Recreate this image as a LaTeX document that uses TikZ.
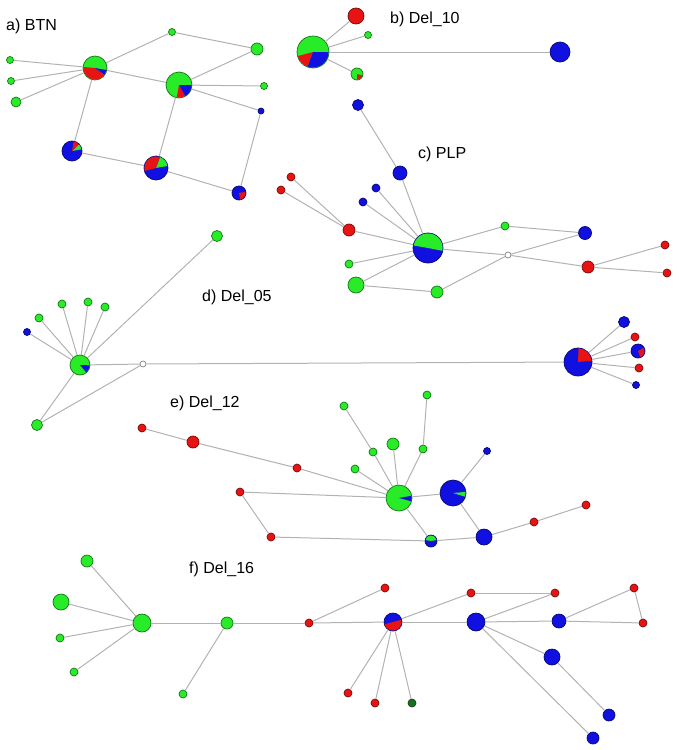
\documentclass[tikz,border=0pt]{standalone}
\usepackage{fontspec}
\setmainfont{Liberation Sans}
\usetikzlibrary{positioning}

\definecolor{hgreen}{RGB}{40,236,40}
\definecolor{hred}{RGB}{232,20,20}
\definecolor{hblue}{RGB}{16,16,224}
\definecolor{hdark}{RGB}{24,110,34}
\definecolor{hgray}{RGB}{178,178,178}

\tikzset{
  hap/.style={circle, draw, inner sep=0pt, line width=0.7pt},
  gn/.style={hap, fill=hgreen, draw=hgreen!50!black},
  rd/.style={hap, fill=hred, draw=hred!50!black},
  bl/.style={hap, fill=hblue, draw=hblue!50!black},
  dg/.style={hap, fill=hdark, draw=hdark!60!black},
  mv/.style={hap, fill=white, draw=gray, minimum size=6pt},
  link/.style={draw=hgray, line width=1pt},
  lbl/.style={anchor=base west, inner sep=0pt, font=\fontsize{16}{19}\selectfont}
}

% slice of a pie node: node, radius, start, end, colour
\newcommand{\pieslice}[5]{%
  \fill[#5] (#1.center) -- ++(#3:#2) arc[start angle=#3, end angle=#4, radius=#2] -- cycle;}

\begin{document}
\begin{tikzpicture}[x=1pt, y=-1pt]
\useasboundingbox (0,0) rectangle (679,750);

% a) BTN
\node[lbl] (ta) at (6,30) {a) BTN};
\node[gn, minimum size=24pt] (a1) at (95,68) {};
\node[gn, minimum size=26pt] (a2) at (179,85) {};
\node[gn, minimum size=7pt] (a3) at (172,32) {};
\node[gn, minimum size=12pt] (a4) at (257,49) {};
\node[gn, minimum size=7pt] (a5) at (264,86) {};
\node[bl, minimum size=6pt] (a6) at (261,111) {};
\node[gn, minimum size=7pt] (a7) at (10,60) {};
\node[gn, minimum size=7pt] (a8) at (11,81) {};
\node[gn, minimum size=10pt] (a9) at (16,102) {};
\node[bl, minimum size=20pt] (a10) at (72,151) {};
\node[bl, minimum size=24pt] (a11) at (156,168) {};
\node[bl, minimum size=14pt] (a12) at (239,193) {};
\pieslice{a1}{11.6pt}{175}{325}{hred}
\pieslice{a1}{11.6pt}{325}{350}{hblue}
\pieslice{a2}{12.6pt}{260}{300}{hred}
\pieslice{a2}{12.6pt}{300}{360}{hblue}
\pieslice{a10}{9.6pt}{10}{45}{hgreen}
\pieslice{a10}{9.6pt}{45}{80}{hred}
\pieslice{a11}{11.6pt}{10}{70}{hgreen}
\pieslice{a11}{11.6pt}{70}{195}{hred}
\pieslice{a12}{6.6pt}{-80}{10}{hred}
\draw[link] (a1) -- (a3);
\draw[link] (a3) -- (a4);
\draw[link] (a4) -- (a2);
\draw[link] (a1) -- (a2);
\draw[link] (a1) -- (a7);
\draw[link] (a1) -- (a8);
\draw[link] (a1) -- (a9);
\draw[link] (a2) -- (a5);
\draw[link] (a2) -- (a6);
\draw[link] (a6) -- (a12);
\draw[link] (a1) -- (a10);
\draw[link] (a10) -- (a11);
\draw[link] (a11) -- (a2);
\draw[link] (a11) -- (a12);

% b) Del_10
\node[lbl] (tb) at (390,23) {b) Del\_10};
\node[gn, minimum size=32pt] (b1) at (313,52) {};
\node[rd, minimum size=16pt] (b2) at (356,16) {};
\node[gn, minimum size=7pt] (b3) at (368,35) {};
\node[gn, minimum size=12pt] (b4) at (357,74) {};
\node[bl, minimum size=20pt] (b5) at (560,52) {};
\pieslice{b1}{15.6pt}{195}{250}{hred}
\pieslice{b1}{15.6pt}{250}{360}{hblue}
\pieslice{b4}{5.6pt}{270}{345}{hred}
\draw[link] (b1) -- (b2);
\draw[link] (b1) -- (b3);
\draw[link] (b1) -- (b4);
\draw[link] (b1) -- (b5);

% c) PLP
\node[lbl] (tc) at (418,158) {c) PLP};
\node[bl, minimum size=11pt] (c1) at (358,105) {};
\node[bl, minimum size=14pt] (c2) at (400,173) {};
\node[rd, minimum size=8pt] (c3) at (291,177) {};
\node[rd, minimum size=8pt] (c4) at (281,190) {};
\node[bl, minimum size=8pt] (c5) at (376,188) {};
\node[bl, minimum size=8pt] (c6) at (363,202) {};
\node[rd, minimum size=12pt] (c7) at (349,230) {};
\node[bl, minimum size=30pt] (c8) at (428,248) {};
\node[gn, minimum size=8pt] (c9) at (505,226) {};
\node[bl, minimum size=13pt] (c10) at (585,233) {};
\node[mv] (c11) at (508,255) {};
\node[rd, minimum size=12pt] (c12) at (588,267) {};
\node[rd, minimum size=8pt] (c13) at (665,245) {};
\node[rd, minimum size=8pt] (c14) at (667,273) {};
\node[gn, minimum size=8pt] (c15) at (349,264) {};
\node[gn, minimum size=16pt] (c16) at (356,285) {};
\node[gn, minimum size=12pt] (c17) at (437,292) {};
\pieslice{c8}{14.6pt}{-11}{170}{hgreen}
\draw[link] (c1) -- (c2);
\draw[link] (c2) -- (c8);
\draw[link] (c3) -- (c7);
\draw[link] (c4) -- (c7);
\draw[link] (c7) -- (c8);
\draw[link] (c5) -- (c8);
\draw[link] (c6) -- (c8);
\draw[link] (c8) -- (c9);
\draw[link] (c9) -- (c10);
\draw[link] (c8) -- (c11);
\draw[link] (c11) -- (c12);
\draw[link] (c11) -- (c10);
\draw[link] (c11) -- (c17);
\draw[link] (c17) -- (c16);
\draw[link] (c16) -- (c8);
\draw[link] (c15) -- (c8);
\draw[link] (c12) -- (c13);
\draw[link] (c12) -- (c14);

% d) Del_05
\node[lbl] (td) at (202,301) {d) Del\_05};
\node[gn, minimum size=11pt] (d1) at (217,236) {};
\node[gn, minimum size=8pt] (d2) at (62,304) {};
\node[gn, minimum size=8pt] (d3) at (88,302) {};
\node[gn, minimum size=8pt] (d4) at (105,307) {};
\node[gn, minimum size=8pt] (d5) at (39,318) {};
\node[bl, minimum size=7pt] (d6) at (27,332) {};
\node[gn, minimum size=20pt] (d7) at (80,365) {};
\node[mv] (d8) at (143,364) {};
\node[gn, minimum size=11pt] (d9) at (37,425) {};
\node[bl, minimum size=28pt] (d10) at (578,362) {};
\node[bl, minimum size=11pt] (d11) at (624,322) {};
\node[rd, minimum size=8pt] (d12) at (635,337) {};
\node[bl, minimum size=14pt] (d13) at (638,351) {};
\node[rd, minimum size=8pt] (d14) at (639,368) {};
\node[bl, minimum size=7pt] (d15) at (636,385) {};
\pieslice{d7}{9.6pt}{-50}{-2}{hblue}
\pieslice{d10}{13.6pt}{5}{88}{hred}
\pieslice{d13}{6.6pt}{-70}{30}{hred}
\draw[link] (d7) -- (d2);
\draw[link] (d7) -- (d3);
\draw[link] (d7) -- (d4);
\draw[link] (d7) -- (d5);
\draw[link] (d7) -- (d6);
\draw[link] (d7) -- (d1);
\draw[link] (d7) -- (d8);
\draw[link] (d8) -- (d9);
\draw[link] (d7) -- (d9);
\draw[link] (d8) -- (d10);
\draw[link] (d10) -- (d11);
\draw[link] (d10) -- (d12);
\draw[link] (d10) -- (d13);
\draw[link] (d10) -- (d14);
\draw[link] (d10) -- (d15);

% e) Del_12
\node[lbl] (te) at (170,407) {e) Del\_12};
\node[rd, minimum size=8pt] (e1) at (142,428) {};
\node[rd, minimum size=12pt] (e2) at (193,442) {};
\node[rd, minimum size=8pt] (e3) at (297,468) {};
\node[gn, minimum size=8pt] (e4) at (344,406) {};
\node[gn, minimum size=8pt] (e5) at (427,395) {};
\node[gn, minimum size=12pt] (e6) at (393,444) {};
\node[gn, minimum size=8pt] (e7) at (373,452) {};
\node[gn, minimum size=8pt] (e8) at (423,449) {};
\node[gn, minimum size=8pt] (e9) at (355,469) {};
\node[bl, minimum size=7pt] (e10) at (487,451) {};
\node[gn, minimum size=26pt] (e11) at (399,498) {};
\node[bl, minimum size=26pt] (e12) at (453,493) {};
\node[rd, minimum size=8pt] (e13) at (240,492) {};
\node[rd, minimum size=8pt] (e14) at (271,537) {};
\node[bl, minimum size=12pt] (e15) at (431,541) {};
\node[bl, minimum size=16pt] (e16) at (484,537) {};
\node[rd, minimum size=8pt] (e17) at (534,522) {};
\node[rd, minimum size=8pt] (e18) at (586,505) {};
\pieslice{e11}{12.6pt}{-15}{10}{hblue}
\pieslice{e12}{12.6pt}{-17}{5}{hgreen}
\pieslice{e15}{5.6pt}{10}{170}{hgreen}
\draw[link] (e1) -- (e2);
\draw[link] (e2) -- (e3);
\draw[link] (e3) -- (e11);
\draw[link] (e4) -- (e7);
\draw[link] (e7) -- (e11);
\draw[link] (e5) -- (e8);
\draw[link] (e8) -- (e11);
\draw[link] (e6) -- (e11);
\draw[link] (e9) -- (e11);
\draw[link] (e11) -- (e12);
\draw[link] (e12) -- (e10);
\draw[link] (e13) -- (e11);
\draw[link] (e13) -- (e14);
\draw[link] (e14) -- (e15);
\draw[link] (e11) -- (e15);
\draw[link] (e15) -- (e16);
\draw[link] (e12) -- (e16);
\draw[link] (e16) -- (e17);
\draw[link] (e17) -- (e18);

% f) Del_16
\node[lbl] (tf) at (189,573) {f) Del\_16};
\node[gn, minimum size=12pt] (f1) at (87,561) {};
\node[gn, minimum size=16pt] (f2) at (61,602) {};
\node[gn, minimum size=8pt] (f3) at (60,638) {};
\node[gn, minimum size=8pt] (f4) at (74,672) {};
\node[gn, minimum size=18pt] (f5) at (142,623) {};
\node[gn, minimum size=12pt] (f6) at (227,623) {};
\node[gn, minimum size=8pt] (f7) at (183,694) {};
\node[rd, minimum size=8pt] (f8) at (309,623) {};
\node[rd, minimum size=8pt] (f9) at (385,588) {};
\node[bl, minimum size=18pt] (f10) at (393,622) {};
\node[rd, minimum size=8pt] (f11) at (348,693) {};
\node[rd, minimum size=8pt] (f12) at (375,703) {};
\node[dg, minimum size=8pt] (f13) at (412,703) {};
\node[rd, minimum size=8pt] (f14) at (471,593) {};
\node[rd, minimum size=8pt] (f15) at (555,593) {};
\node[bl, minimum size=18pt] (f16) at (476,622) {};
\node[bl, minimum size=14pt] (f17) at (559,621) {};
\node[rd, minimum size=8pt] (f18) at (634,588) {};
\node[rd, minimum size=8pt] (f19) at (643,623) {};
\node[bl, minimum size=16pt] (f20) at (552,657) {};
\node[bl, minimum size=12pt] (f21) at (609,715) {};
\node[bl, minimum size=12pt] (f22) at (593,738) {};
\pieslice{f10}{8.6pt}{195}{375}{hred}
\draw[link] (f5) -- (f1);
\draw[link] (f5) -- (f2);
\draw[link] (f5) -- (f3);
\draw[link] (f5) -- (f4);
\draw[link] (f5) -- (f6);
\draw[link] (f6) -- (f7);
\draw[link] (f6) -- (f8);
\draw[link] (f8) -- (f9);
\draw[link] (f8) -- (f10);
\draw[link] (f10) -- (f11);
\draw[link] (f10) -- (f12);
\draw[link] (f10) -- (f13);
\draw[link] (f10) -- (f14);
\draw[link] (f14) -- (f15);
\draw[link] (f15) -- (f16);
\draw[link] (f10) -- (f16);
\draw[link] (f16) -- (f17);
\draw[link] (f17) -- (f18);
\draw[link] (f18) -- (f19);
\draw[link] (f17) -- (f19);
\draw[link] (f16) -- (f20);
\draw[link] (f20) -- (f21);
\draw[link] (f16) -- (f22);
\end{tikzpicture}
\end{document}
